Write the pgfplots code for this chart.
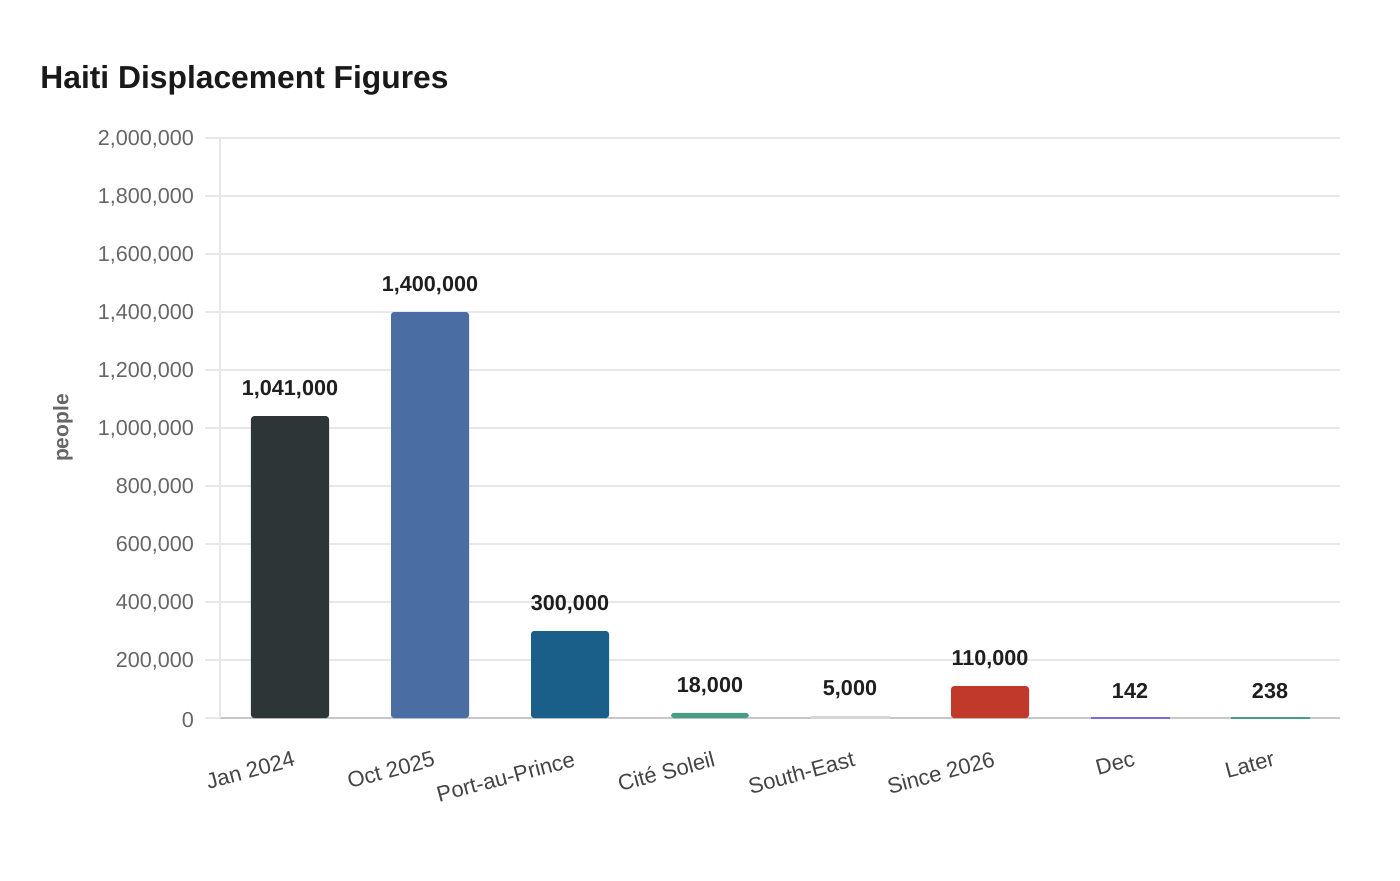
\documentclass[border=0pt]{standalone}
\usepackage{pgfplots}
\pgfplotsset{compat=1.18}
\usepackage{fontspec}
\setmainfont{Liberation Sans}
\definecolor{cJan}{HTML}{2E3537}
\definecolor{cOct}{HTML}{4A6EA4}
\definecolor{cPap}{HTML}{1A5F8A}
\definecolor{cCite}{HTML}{4A9B87}
\definecolor{cSE}{HTML}{D6D6D6}
\definecolor{cSince}{HTML}{C1392B}
\definecolor{cDec}{HTML}{7B68D8}
\definecolor{cLater}{HTML}{4A9B87}
\definecolor{tickgray}{HTML}{666666}
\definecolor{labgray}{HTML}{444444}
\definecolor{gridgray}{HTML}{E8E8E8}
\begin{document}
\begin{tikzpicture}
\begin{axis}[
  at={(0,0)}, anchor=south west,
  scale only axis,
  width=560pt, height=290pt,
  xmin=-0.5, xmax=7.5,
  ymin=0, ymax=2000000,
  ytick distance=200000,
  scaled y ticks=false,
  xtick={0,1,2,3,4,5,6,7},
  xticklabels={Jan 2024,Oct 2025,Port-au-Prince,Cité Soleil,South-East,Since 2026,Dec,Later},
  xticklabel style={rotate=15, anchor=east, yshift=-12.8pt, xshift=2.2pt, text=labgray, font=\fontsize{11}{13}\selectfont},
  yticklabel style={text=tickgray, font=\fontsize{10.8}{13}\selectfont, xshift=-2pt, yshift=-0.8pt},
  /pgf/number format/.cd, fixed, 1000 sep={,}, assume math mode=true,
  /pgfplots/.cd,
  axis x line*=bottom, axis y line*=left,
  x axis line style={-, draw=black!22, line width=0.8pt},
  y axis line style={-, draw=gridgray, line width=0.8pt},
  xtick style={draw=none},
  ytick style={draw=gridgray, line width=0.7pt},
  tick align=outside,
  major tick length=7.5pt,
  ymajorgrids,
  grid style={draw=gridgray, line width=0.7pt},
  ylabel={people},
  ylabel style={at={(rel axis cs:0,0.5)}, anchor=center, yshift=78.5pt, text=tickgray, font=\bfseries\fontsize{10.5}{12}\selectfont},
  ybar, bar width=39pt, bar shift=0pt,
  clip=false,
  nodes near coords,
  every node near coord/.append style={anchor=center, yshift=13.3pt, font=\bfseries\fontsize{10.8}{13}\selectfont, text=black!88},
]
\addplot[fill=cJan, draw=none, rounded corners=1.5pt] coordinates {(0,1041000)};
\addplot[fill=cOct, draw=none, rounded corners=1.5pt] coordinates {(1,1400000)};
\addplot[fill=cPap, draw=none, rounded corners=1.5pt] coordinates {(2,300000)};
\addplot[fill=cCite, draw=none, rounded corners=1.5pt] coordinates {(3,18000)};
\addplot[fill=cSE, draw=cSE, line width=0.5pt] coordinates {(4,5000)};
\addplot[fill=cSince, draw=none, rounded corners=1.5pt] coordinates {(5,110000)};
\addplot[fill=cDec, draw=cDec, line width=0.5pt] coordinates {(6,142)};
\addplot[fill=cLater, draw=cLater, line width=0.5pt] coordinates {(7,238)};
\end{axis}
\node[anchor=west, inner sep=0pt, font=\bfseries\fontsize{15.9}{19}\selectfont, text=black!90] at (-90pt,319pt) {Haiti Displacement Figures};
\pgfresetboundingbox
\path[use as bounding box] (-110pt,-81pt) rectangle (590pt,359pt);
\end{tikzpicture}
\end{document}
